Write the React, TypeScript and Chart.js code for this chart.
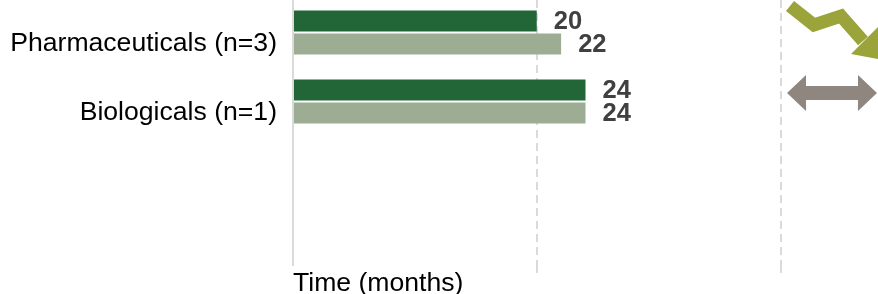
import React, { useEffect, useRef } from 'react';
import { Chart, registerables } from 'chart.js';

Chart.register(...registerables);

const categories = ['Pharmaceuticals (n=3)', 'Biologicals (n=1)'];
const seriesCurrent = [20, 24];
const seriesPrevious = [22, 24];
const seriesThird: (number | null)[] = [null, null];
const xTicks = [0, 20, 40];
const trendIcons = ['down', 'same'];

const FONT = '"Liberation Sans", Arial, sans-serif';

const valueLabelPlugin = {
  id: 'valueLabels',
  afterDatasetsDraw(chart: any) {
    const ctx = chart.ctx;
    ctx.save();
    ctx.font = `bold 25.5px ${FONT}`;
    ctx.fillStyle = '#404040';
    ctx.textAlign = 'left';
    ctx.textBaseline = 'middle';
    [0, 1].forEach((di) => {
      const meta = chart.getDatasetMeta(di);
      const data = chart.data.datasets[di].data as any[];
      meta.data.forEach((bar: any, i: number) => {
        const v = data[i]?.x;
        if (v == null) return;
        ctx.fillText(String(v), bar.x + 17, bar.y + 1);
      });
    });
    ctx.restore();
  },
};

const iconPlugin = {
  id: 'trendIcons',
  afterDraw(chart: any) {
    const ctx = chart.ctx;
    const yScale = chart.scales.y;
    const right = chart.chartArea.right;
    ctx.save();
    trendIcons.forEach((kind, i) => {
      const base = yScale.getPixelForValue(i);
      if (kind === 'down') {
        const cy = base - 14;
        ctx.strokeStyle = '#9aa43a';
        ctx.fillStyle = '#9aa43a';
        ctx.lineWidth = 13;
        ctx.lineJoin = 'miter';
        ctx.lineCap = 'butt';
        ctx.beginPath();
        ctx.moveTo(right - 88, cy - 24);
        ctx.lineTo(right - 64, cy - 5);
        ctx.lineTo(right - 37, cy - 14);
        ctx.lineTo(right - 15, cy + 11);
        ctx.stroke();
        ctx.beginPath();
        ctx.moveTo(right + 6, cy + 30);
        ctx.lineTo(right - 27, cy + 24);
        ctx.lineTo(right + 3, cy - 6);
        ctx.closePath();
        ctx.fill();
      } else {
        const cy = base - 20;
        ctx.fillStyle = '#8f8680';
        const l = right - 91, r = right - 1;
        ctx.beginPath();
        ctx.moveTo(l, cy);
        ctx.lineTo(l + 19, cy - 18);
        ctx.lineTo(l + 19, cy - 7);
        ctx.lineTo(r - 19, cy - 7);
        ctx.lineTo(r - 19, cy - 18);
        ctx.lineTo(r, cy);
        ctx.lineTo(r - 19, cy + 18);
        ctx.lineTo(r - 19, cy + 7);
        ctx.lineTo(l + 19, cy + 7);
        ctx.lineTo(l + 19, cy + 18);
        ctx.closePath();
        ctx.fill();
      }
    });
    ctx.restore();
  },
};

export default function App() {
  const canvasRef = useRef<HTMLCanvasElement | null>(null);

  useEffect(() => {
    if (!canvasRef.current) return;
    const toPoints = (arr: (number | null)[]) => categories.map((_, i) => ({ x: arr[i], y: i }));
    const chart = new Chart(canvasRef.current, {
      type: 'bar',
      data: {
        datasets: [
          { label: 'Current', data: toPoints(seriesCurrent), backgroundColor: '#226638' },
          { label: 'Previous', data: toPoints(seriesPrevious), backgroundColor: '#9cad93' },
          { label: 'Other', data: toPoints(seriesThird), backgroundColor: '#c8c8c8' },
        ] as any,
      },
      options: {
        indexAxis: 'y',
        animation: false,
        responsive: false,
        maintainAspectRatio: false,
        layout: { padding: 0 },
        datasets: { bar: { categoryPercentage: 1, barPercentage: 0.92 } } as any,
        plugins: { legend: { display: false }, tooltip: { enabled: false }, title: { display: false } },
        scales: {
          y: {
            type: 'linear',
            reverse: true,
            offset: false,
            min: -0.638,
            max: 3.203,
            afterBuildTicks: (scale: any) => {
              scale.ticks = categories.map((_, i) => ({ value: i }));
            },
            afterFit: (scale: any) => {
              scale.width = 293;
              scale.paddingTop = 0;
              scale.paddingBottom = 0;
            },
            grid: { display: false, drawTicks: false, offset: false },
            border: { display: true, color: '#dadada', width: 2 },
            ticks: {
              padding: 16,
              color: '#000000',
              font: { family: FONT, size: 26.6 },
              callback: (v: any) => categories[v] ?? '',
            },
          },
          x: {
            type: 'linear',
            offset: false,
            min: 0,
            max: 48,
            afterBuildTicks: (scale: any) => {
              scale.ticks = xTicks.map((v) => ({ value: v }));
            },
            afterFit: (scale: any) => {
              scale.height = 29;
              scale.paddingLeft = 0;
              scale.paddingRight = 0;
            },
            ticks: { display: false },
            grid: {
              display: true,
              drawOnChartArea: true,
              drawTicks: true,
              tickLength: 8,
              lineWidth: 2,
              color: (c: any) => (c.tick && c.tick.value === 0 ? 'rgba(0,0,0,0)' : '#dadada'),
              tickColor: (c: any) => (c.tick && c.tick.value === 0 ? 'rgba(0,0,0,0)' : '#dadada'),
              tickBorderDash: [8, 5],
            } as any,
            border: { display: false, dash: [8, 5] },
            title: {
              display: true,
              text: 'Time (months)',
              align: 'start',
              color: '#000000',
              font: { family: FONT, size: 26.6, lineHeight: 0.78 },
              padding: 0,
            },
          },
        },
      } as any,
      plugins: [valueLabelPlugin, iconPlugin],
    });
    return () => chart.destroy();
  }, []);

  return (
    <div style={{ position: 'fixed', left: 0, top: 0, width: 878, height: 294, background: '#ffffff' }}>
      <canvas ref={canvasRef} width={878} height={294} style={{ display: 'block' }} />
    </div>
  );
}
